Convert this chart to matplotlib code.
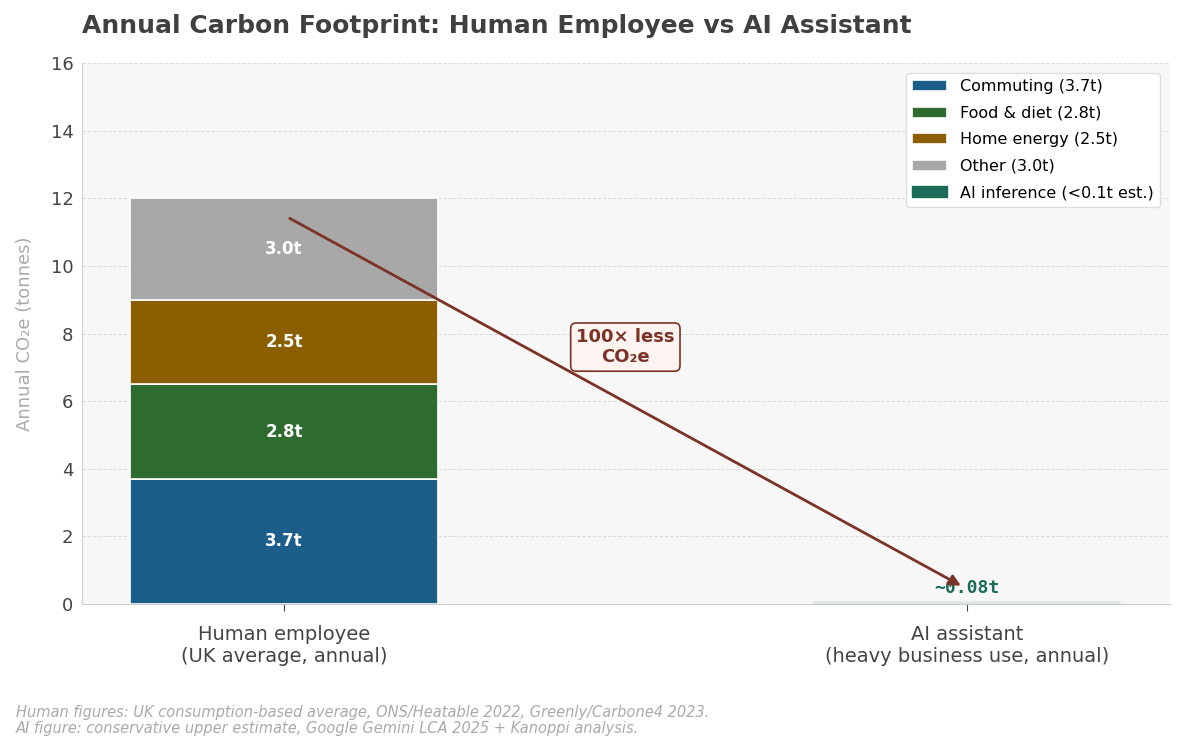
import numpy as np
import matplotlib.pyplot as plt

categories = ["Human employee\n(UK average, annual)", "AI assistant\n(heavy business use, annual)"]
segments = ["Commuting", "Food & diet", "Home energy", "Other"]
human_values = [3.7, 2.8, 2.5, 3.0]
ai_value = 0.08
legend_labels = ["Commuting (3.7t)", "Food & diet (2.8t)", "Home energy (2.5t)",
                 "Other (3.0t)", "AI inference (<0.1t est.)"]
colors = ["#1b5e8a", "#2e6b2e", "#8b5e00", "#a8a8a8"]
ai_color = "#1a6b5a"

fig = plt.figure(figsize=(11.85, 7.53), dpi=100)
ax = fig.add_axes([0.069, 0.198, 0.918, 0.718])
ax.set_facecolor("#f7f7f7")

x = np.arange(len(categories))
width = 0.45
bottom = 0
handles = []
for val, col, lab in zip(human_values, colors, legend_labels):
    b = ax.bar(x[0], val, width, bottom=bottom, color=col, edgecolor="white", linewidth=1.2, label=lab, zorder=3)
    handles.append(b)
    ax.text(x[0], bottom + val / 2, f"{val:.1f}t", ha="center", va="center",
            color="white", fontsize=12, fontweight="bold", zorder=4)
    bottom += val

b = ax.bar(x[1], ai_value, width, color=ai_color, alpha=0.12, edgecolor="#cccccc",
           linewidth=0.8, label=legend_labels[4], zorder=3)
ax.text(x[1], ai_value + 0.12, "~0.08t", ha="center", va="bottom", color=ai_color,
        fontsize=13, fontweight="bold", family="DejaVu Sans Mono", zorder=4)

ax.annotate("", xy=(0.995, 0.5), xytext=(0.005, 11.45),
            arrowprops=dict(arrowstyle="-|>", color="#7a3326", lw=2, mutation_scale=16), zorder=5)
ax.text(0.5, 7.6, "100× less\nCO₂e", ha="center", va="center", color="#7a3326",
        fontsize=13, fontweight="bold", linespacing=1.1, zorder=6,
        bbox=dict(boxstyle="round,pad=0.3", fc="#fdf3f1", ec="#7a3326", lw=1.2))

ax.set_xlim(-0.296, 1.297)
ax.set_ylim(0, 16)
ax.set_yticks(np.arange(0, 17, 2))
ax.set_xticks(x)
ax.set_xticklabels(categories, fontsize=14, color="#444444")
ax.tick_params(axis="y", labelsize=13, colors="#444444", length=0, pad=6)
ax.tick_params(axis="x", colors="#444444", length=5, pad=10)
ax.set_ylabel("Annual CO₂e (tonnes)", fontsize=13, color="#aaaaaa", labelpad=12)
ax.grid(axis="y", color="#dddddd", linestyle="--", linewidth=0.7, zorder=0)
for s in ["top", "right"]:
    ax.spines[s].set_visible(False)
for s in ["left", "bottom"]:
    ax.spines[s].set_color("#cccccc")

leg = ax.legend(handles=handles + [plt.Rectangle((0, 0), 1, 1, color=ai_color)],
                labels=legend_labels, loc="upper right", fontsize=11.5, frameon=True,
                facecolor="white", edgecolor="#dddddd", framealpha=1, borderaxespad=0.6,
                labelspacing=0.72, handlelength=2.2)

fig.text(0.069, 0.966, "Annual Carbon Footprint: Human Employee vs AI Assistant",
         fontsize=18, fontweight="bold", color="#404040", ha="left", va="center")
fig.text(0.0135, 0.043, "Human figures: UK consumption-based average, ONS/Heatable 2022, Greenly/Carbone4 2023.\n"
         "AI figure: conservative upper estimate, Google Gemini LCA 2025 + Kanoppi analysis.",
         fontsize=10.5, style="italic", color="#aaaaaa", ha="left", va="center", linespacing=1.1)

fig.savefig("out.png", dpi=100)
